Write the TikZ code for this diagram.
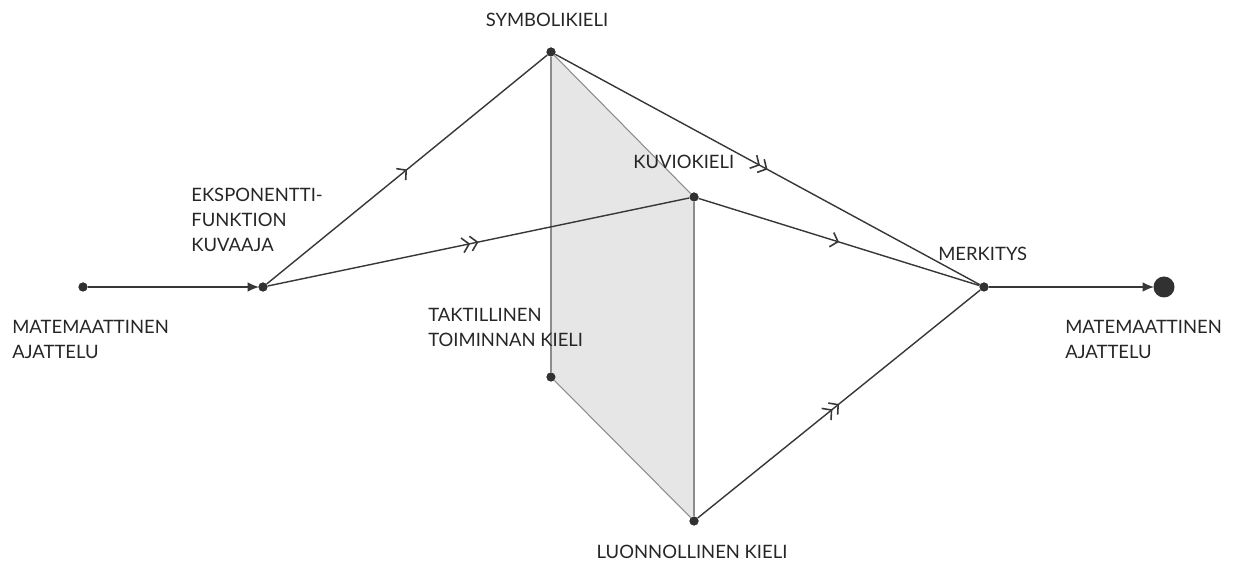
\documentclass[tikz,border=0pt]{standalone}
\usepackage{fontspec}
\setmainfont{Lato}
\usepackage{tikz}
\usetikzlibrary{arrows.meta, positioning, decorations.markings}
\definecolor{linegray}{RGB}{55, 55, 55}
\definecolor{edgegray}{RGB}{140, 140, 140}
\definecolor{planegray}{RGB}{230, 230, 230}

\begin{document}
\begin{tikzpicture}[
    x=0.02cm, y=-0.02cm,
    dot/.style={circle, fill=linegray!90!black, inner sep=0pt, minimum size=0.18cm},
    bigdot/.style={circle, fill=linegray!90!black, inner sep=0pt, minimum size=0.42cm},
    label/.style={align=left, anchor=west, inner sep=0pt, font=\fontsize{10.5}{14.2}\selectfont, text=black!85},
    link/.style={draw=linegray, thick},
    endarrow/.style={link, -{Latex[length=6.5pt, width=5.5pt]}, shorten >=-0.5pt},
    onebarb/.style={postaction={decorate, decoration={markings,
        mark=at position 0.5 with {\arrow{Straight Barb[length=3.8pt, width=8.5pt, line width=0.9pt]}}}}},
    twobarb/.style={postaction={decorate, decoration={markings,
        mark=at position 0.5 with {\arrow{Straight Barb[length=3.8pt, width=8.5pt, line width=0.9pt] Straight Barb[length=3.8pt, width=8.5pt, line width=0.9pt]}}}}}
]
    \useasboundingbox (0, 0) rectangle (1235, 563);

    % Points
    \node[dot] (start) at (83, 287) {};
    \node[dot] (graph) at (263, 287) {};
    \node[dot] (symbol) at (551, 52) {};
    \node[dot] (pattern) at (694, 197) {};
    \node[dot] (tactile) at (551, 377) {};
    \node[dot] (natural) at (694, 521) {};
    \node[dot] (meaning) at (984, 287) {};
    \node[bigdot] (goal) at (1164, 287) {};

    % Language plane
    \fill[planegray] (symbol.center) -- (pattern.center) -- (natural.center) -- (tactile.center) -- cycle;
    \draw[edgegray, semithick] (symbol) -- (pattern);
    \draw[edgegray, semithick] (pattern) -- (natural);
    \draw[edgegray, semithick] (natural) -- (tactile);
    \draw[edgegray, semithick] (tactile) -- (symbol);

    % Labels
    \node[label] (startlbl) at (12, 339) {MATEMAATTINEN\\AJATTELU};
    \node[label] (graphlbl) at (191, 220) {EKSPONENTTI-\\FUNKTION\\KUVAAJA};
    \node[label, anchor=center] (symbollbl) at (547, 20) {SYMBOLIKIELI};
    \node[label] (patternlbl) at (633, 162) {KUVIOKIELI};
    \node[label] (tactilelbl) at (428, 327) {TAKTILLINEN\\TOIMINNAN KIELI};
    \node[label, anchor=center] (naturallbl) at (692, 552) {LUONNOLLINEN KIELI};
    \node[label] (meaninglbl) at (938, 254) {MERKITYS};
    \node[label] (goallbl) at (1065, 339) {MATEMAATTINEN\\AJATTELU};

    % Arrows
    \draw[endarrow] (start) -- (graph);
    \draw[link, onebarb] (graph) -- (symbol);
    \draw[link, twobarb] (graph) -- (pattern);
    \draw[link, twobarb] (symbol) -- (meaning);
    \draw[link, onebarb] (pattern) -- (meaning);
    \draw[link, twobarb] (natural) -- (meaning);
    \draw[endarrow] (meaning) -- (goal);

    % Dots on top
    \foreach \p in {start, graph, symbol, pattern, tactile, natural, meaning}
        \fill[linegray!90!black] (\p) circle (0.09cm);
\end{tikzpicture}
\end{document}
